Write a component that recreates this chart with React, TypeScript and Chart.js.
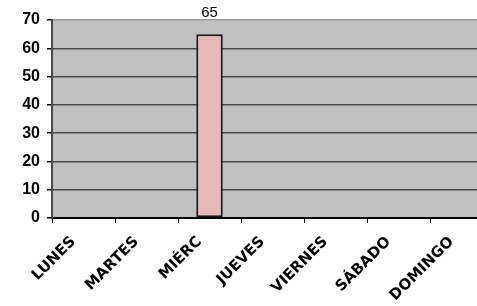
import React, { useEffect, useRef } from "react";
import { Chart, registerables } from "chart.js";

Chart.register(...registerables);

const days = ["LUNES", "MARTES", "MIÉRC", "JUEVES", "VIERNES", "SÁBADO", "DOMINGO"];
const values: (number | null)[] = [null, null, 65, null, null, null, null];
const yMin = 0;
const yMax = 70;
const yStep = 10;

const plotBg = {
  id: "plotBg",
  beforeDraw(chart: any) {
    const { ctx, chartArea } = chart;
    ctx.save();
    ctx.fillStyle = "#c0c0c0";
    ctx.fillRect(chartArea.left, chartArea.top, chartArea.right - chartArea.left, chartArea.bottom - chartArea.top);
    ctx.restore();
  },
};

const valueLabels = {
  id: "valueLabels",
  afterDatasetsDraw(chart: any) {
    const { ctx } = chart;
    const meta = chart.getDatasetMeta(0);
    ctx.save();
    ctx.font = "15px 'Liberation Sans', Arial, sans-serif";
    ctx.fillStyle = "#000";
    ctx.textAlign = "center";
    ctx.textBaseline = "alphabetic";
    meta.data.forEach((el: any, i: number) => {
      const v = values[i];
      if (v === null || v === undefined) return;
      ctx.fillText(String(v), el.x, el.y - 17);
    });
    ctx.restore();
  },
};

export default function App() {
  const ref = useRef<HTMLCanvasElement | null>(null);
  useEffect(() => {
    if (!ref.current) return;
    const chart = new Chart(ref.current, {
      type: "bar",
      data: {
        labels: days,
        datasets: [
          {
            data: values,
            backgroundColor: "#e6b9b8",
            borderColor: "#1a1a1a",
            borderWidth: 2,
            borderSkipped: false,
            barPercentage: 0.42,
            categoryPercentage: 1,
          },
        ],
      },
      options: {
        responsive: false,
        animation: false,
        devicePixelRatio: 1,
        layout: { padding: { top: 20, right: 7, left: 0, bottom: 0 } },
        plugins: { legend: { display: false }, tooltip: { enabled: false } },
        scales: {
          x: {
            grid: { drawOnChartArea: false, offset: true, tickLength: 5, color: "#000", lineWidth: 1 },
            border: { display: true, color: "#000", width: 2 },
            ticks: {
              minRotation: 45,
              maxRotation: 45,
              autoSkip: false,
              labelOffset: -10,
              padding: 10,
              color: "#000",
              font: { family: "'DejaVu Sans'", weight: "bold", size: 15 },
            },
            afterFit(scale: any) {
              scale.height = 88;
            },
          },
          y: {
            min: yMin,
            max: yMax,
            ticks: {
              stepSize: yStep,
              padding: 7,
              color: "#000",
              font: { family: "'Liberation Sans', Arial", weight: "bold", size: 16 },
            },
            grid: {
              tickLength: 5,
              color: (c: any) => (c.tick && c.tick.value === yMax ? "#9a9a9a" : "#4a4a4a"),
              tickColor: "#000",
              lineWidth: 1.5,
            },
            border: { display: true, color: "#4a4a4a", width: 2 },
            afterFit(scale: any) {
              scale.width = 52;
            },
          },
        },
      },
      plugins: [plotBg, valueLabels],
    });
    return () => chart.destroy();
  }, []);
  return (
    <div style={{ position: "fixed", left: 0, top: 0, width: 477, height: 306, overflow: "hidden", background: "#fff" }}>
      <canvas ref={ref} width={500} height={306} style={{ display: "block" }} />
    </div>
  );
}
